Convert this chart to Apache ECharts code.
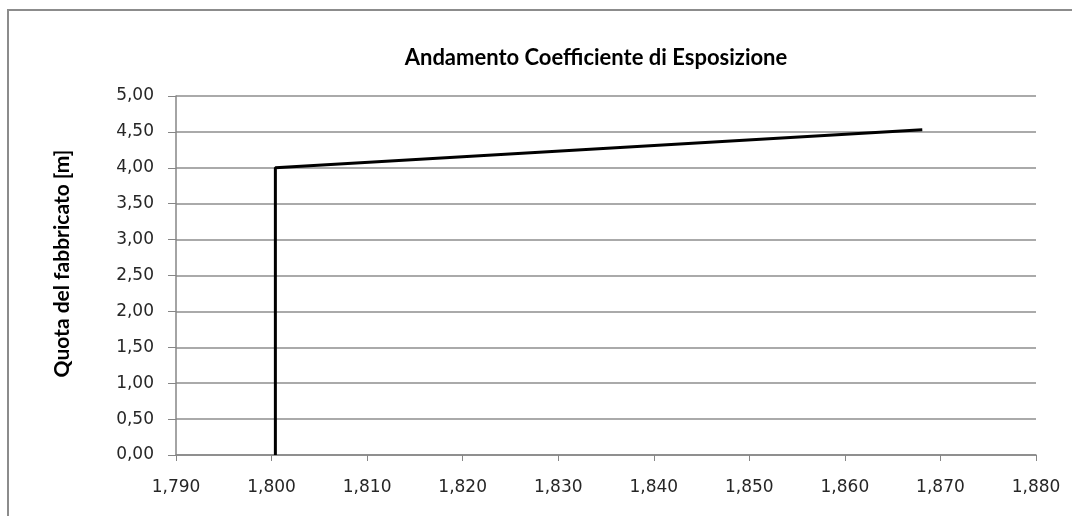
<!DOCTYPE html>
<html>
<head>
<meta charset="utf-8">
<script src="https://cdn.jsdelivr.net/npm/echarts@6/dist/echarts.min.js"></script>
<style>
  html, body { margin: 0; padding: 0; background: #fff; }
  #chart { width: 1072px; height: 516px; }
</style>
</head>
<body>
<div id="chart"></div>
<script>
// coefficiente di esposizione (x) vs quota (y)
const ceValues = [1.8004, 1.8004, 1.8681]
const quotaValues = [0, 4.0, 4.53]

const xMin = 1.79, xMax = 1.88, xStep = 0.01
const yMin = 0, yMax = 5, yStep = 0.5

const chart = echarts.init(document.getElementById('chart'))

const axisGray = '#868686'
const labelFont = { color: '#262626', fontSize: 17, fontFamily: 'DejaVu Sans' }

chart.setOption({
  animation: false,
  title: {
    text: 'Andamento Coefficiente di Esposizione',
    left: 591,
    textAlign: 'center',
    top: 42,
    textStyle: { fontSize: 22, fontWeight: 'bold', color: '#000', fontFamily: 'Lato' }
  },
  graphic: [{
    type: 'rect',
    shape: { x: 8, y: 10, width: 1100, height: 560 },
    style: { fill: 'none', stroke: '#8c8c8c', lineWidth: 2 },
    silent: true
  }],
  grid: { left: 176, right: 36, top: 96, bottom: 61 },
  xAxis: {
    type: 'value',
    min: xMin,
    max: xMax,
    interval: xStep,
    axisLine: { show: true, lineStyle: { color: axisGray, width: 1.5 } },
    axisTick: { show: true, inside: false, length: 6, lineStyle: { color: axisGray } },
    splitLine: { show: false },
    axisLabel: Object.assign({ margin: 24, formatter: v => v.toFixed(3).replace('.', ',') }, labelFont)
  },
  yAxis: {
    type: 'value',
    min: yMin,
    max: yMax,
    interval: yStep,
    name: 'Quota del fabbricato [m]',
    nameLocation: 'middle',
    nameGap: 103,
    nameTextStyle: { fontSize: 21, fontWeight: 'bold', color: '#000', fontFamily: 'Lato', padding: [0, 0, 0, 24] },
    axisLine: { show: true, lineStyle: { color: axisGray, width: 1.5 } },
    axisTick: { show: true, inside: false, length: 8, lineStyle: { color: axisGray } },
    splitLine: { show: true, lineStyle: { color: '#8e8e8e', width: 1.5 } },
    axisLabel: Object.assign({ margin: 22, formatter: v => v.toFixed(2).replace('.', ',') }, labelFont)
  },
  series: [{
    type: 'line',
    data: ceValues.map((x, i) => [x, quotaValues[i]]),
    symbol: 'none',
    lineStyle: { color: '#000', width: 3 }
  }]
})
</script>
</body>
</html>
